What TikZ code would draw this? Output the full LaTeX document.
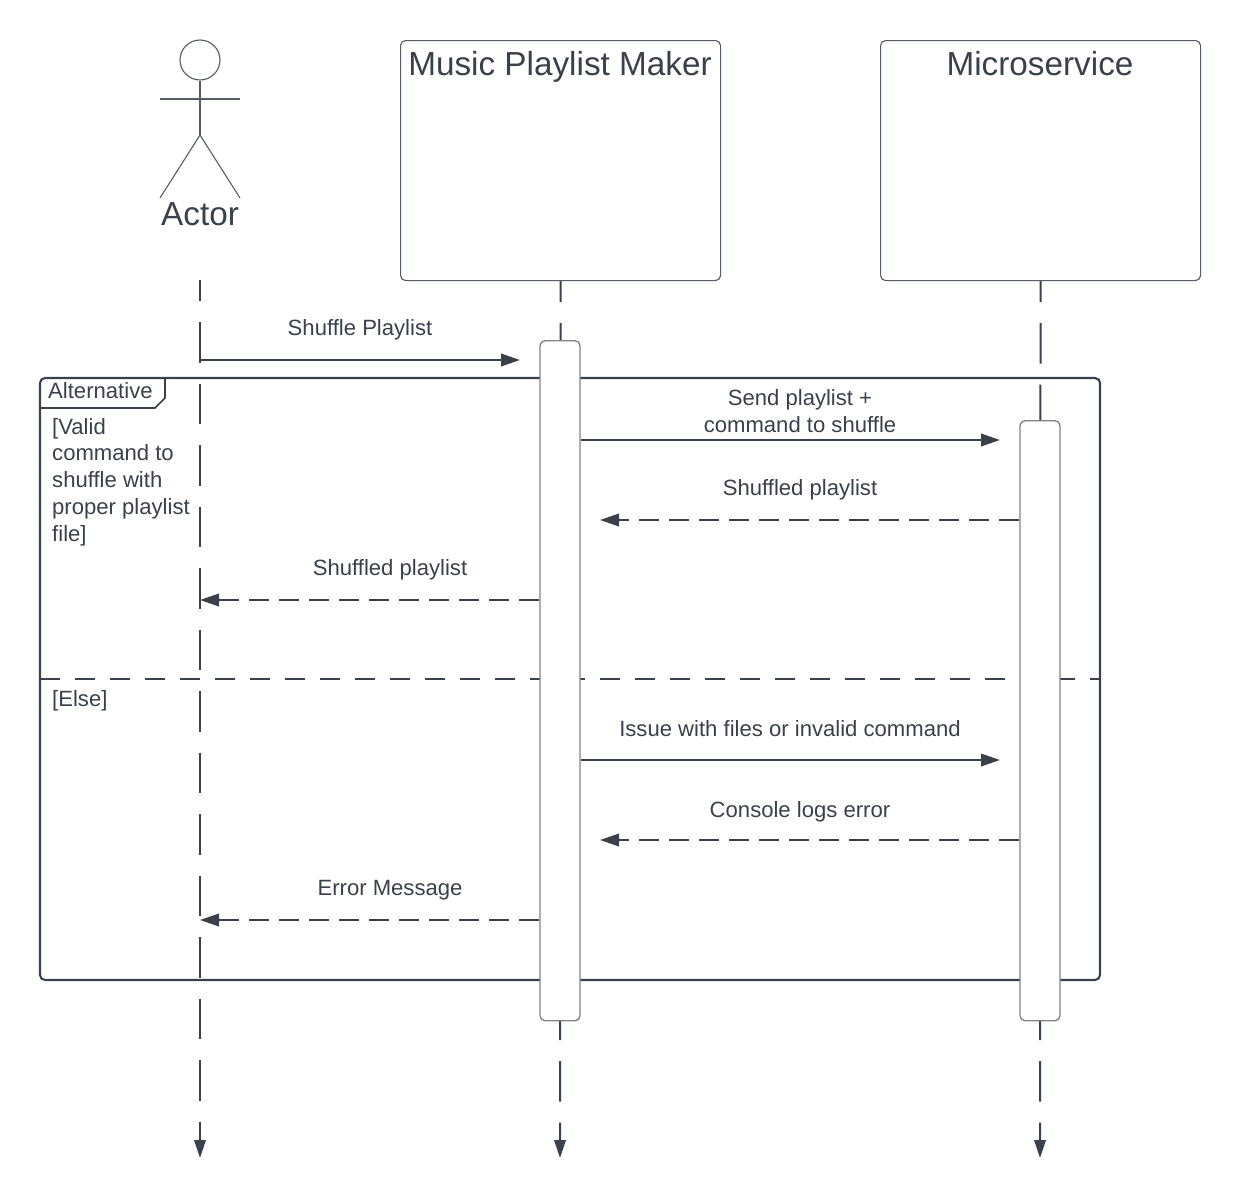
\documentclass[tikz,border=0pt]{standalone}
\usepackage{fontspec}
\setmainfont{Liberation Sans}
\usetikzlibrary{arrows.meta,calc}
\definecolor{ink}{HTML}{3A414A}
\definecolor{edge}{HTML}{7F858C}
\definecolor{laneedge}{HTML}{565C64}
\tikzset{
  x=1pt,y=-1pt,
  lane/.style={draw=laneedge,line width=1.1pt,rounded corners=5pt,fill=white,minimum width=320pt,minimum height=240pt,inner sep=0pt},
  lanetext/.style={text=ink,font=\fontsize{33.3}{40}\selectfont,inner sep=0pt},
  bar/.style={draw=edge,line width=1.4pt,rounded corners=5pt,fill=white,minimum width=40pt,inner sep=0pt},
  lifeline/.style={draw=ink,line width=2pt,dash pattern=on 40.5pt off 21pt,dash phase=19.5pt,-{Triangle[length=18pt,width=11.5pt,fill=ink]}},
  call/.style={draw=ink,line width=2pt,-{Triangle[length=19pt,width=12.5pt,fill=ink]}},
  reply/.style={call,dash pattern=on 20pt off 10pt},
  msg/.style={text=ink,font=\fontsize{22.1}{27}\selectfont,inner sep=0pt,align=center},
  stick/.style={draw=laneedge,line width=1.1pt},
  framebox/.style={draw=ink,line width=2.1pt,rounded corners=5pt},
  framediv/.style={draw=ink,line width=2pt,dash pattern=on 20pt off 15pt},
}
\begin{document}
\begin{tikzpicture}
\useasboundingbox (0,0) rectangle (1240,1197);
% participants
\node[lane,anchor=north west] (mpm) at (400,40) {};
\node[lane,anchor=north west] (ms) at (880,40) {};
\node[lanetext,anchor=base] (mpmt) at (560,75) {Music Playlist Maker};
\node[lanetext,anchor=base] (mst) at (1040,75) {Microservice};
% actor
\node[circle,stick,minimum size=40pt,inner sep=0pt] (head) at (200,60) {};
\coordinate (arml) at (160,99);
\coordinate (armr) at (240,99);
\coordinate (hip) at (200,135);
\coordinate (footl) at (160,198);
\coordinate (footr) at (240,198);
\draw[stick] (arml) -- (armr);
\draw[stick] (head.south) -- (hip);
\draw[stick] (footl) -- (hip) -- (footr);
\node[lanetext,anchor=base] (actor) at (200,225) {Actor};
\coordinate (actortop) at (200,280);
% lifeline ends
\coordinate (endA) at (200,1158);
\coordinate (endB) at (560,1158);
\coordinate (endC) at (1040,1158);
\draw[lifeline] (actortop) -- (endA);
\draw[lifeline] (mpm.south) -- (endB);
\draw[lifeline] (ms.south) -- (endC);
% frame
\coordinate (fTL) at (40,378);
\coordinate (fBR) at (1100,980);
\draw[framebox] (fTL) rectangle (fBR);
\coordinate (tabR) at (165,378);
\coordinate (tabD) at (165,398);
\coordinate (tabC) at (155,408);
\coordinate (tabL) at (40,408);
\draw[draw=ink,line width=1.6pt] (tabR) -- (tabD) -- (tabC) -- (tabL);
\coordinate (divL) at (40,679);
\coordinate (divR) at (1100,679);
\draw[framediv] (divL) -- (divR);
\node[msg,anchor=base west] (alt) at (48,398) {Alternative};
\node[msg,anchor=north west,align=left,font=\fontsize{22.1}{26.7}\selectfont] (g1) at (52,418) {[Valid\\command to\\shuffle with\\proper playlist\\file]};
\node[msg,anchor=base west] (g2) at (52,706) {[Else]};
% activations
\node[bar,anchor=north,minimum height=680pt] (barB) at (560,340) {};
\node[bar,anchor=north,minimum height=600pt] (barC) at (1040,420) {};
% messages
\coordinate (m1s) at (200,360);
\coordinate (m1e) at (520,360);
\draw[call] (m1s) -- (m1e);
\node[msg,anchor=base] (l1) at (360,335) {Shuffle Playlist};
\coordinate (m2e) at (1000,440);
\draw[call] (barB.east |- m2e) -- (m2e);
\node[msg] (l2) at (800,411) {Send playlist +\\command to shuffle};
\coordinate (m3e) at (600,520);
\draw[reply] (barC.west |- m3e) -- (m3e);
\node[msg,anchor=base] (l3) at (800,495) {Shuffled playlist};
\coordinate (m4e) at (200,600);
\draw[reply] (barB.west |- m4e) -- (m4e);
\node[msg,anchor=base] (l4) at (390,575) {Shuffled playlist};
\coordinate (m5e) at (1000,760);
\draw[call] (barB.east |- m5e) -- (m5e);
\node[msg,anchor=base] (l5) at (790,736) {Issue with files or invalid command};
\coordinate (m6e) at (600,840);
\draw[reply] (barC.west |- m6e) -- (m6e);
\node[msg,anchor=base] (l6) at (800,817) {Console logs error};
\coordinate (m7e) at (200,920);
\draw[reply] (barB.west |- m7e) -- (m7e);
\node[msg,anchor=base] (l7) at (390,895) {Error Message};
\end{tikzpicture}
\end{document}
